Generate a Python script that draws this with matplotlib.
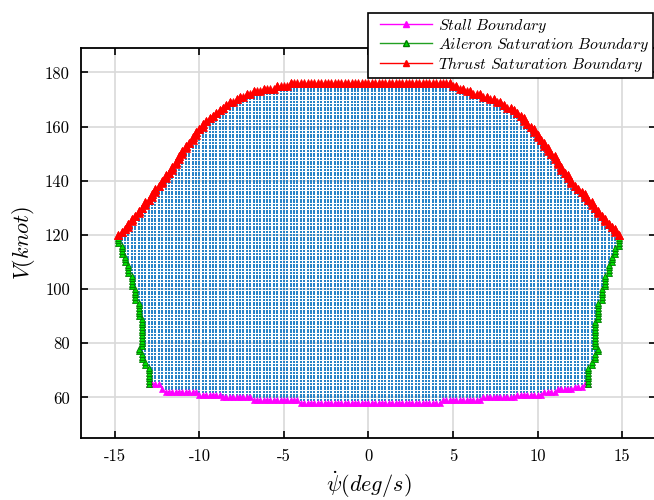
import numpy as np
import matplotlib
matplotlib.use('Agg')
import matplotlib.pyplot as plt
from matplotlib.path import Path
from matplotlib.lines import Line2D
from matplotlib.legend_handler import HandlerLine2D

plt.rcParams['mathtext.fontset'] = 'cm'
plt.rcParams['font.family'] = 'serif'
plt.rcParams['font.serif'] = ['cmr10']
plt.rcParams['axes.unicode_minus'] = False

# ---------------- data ----------------
# analysis grid
psi_grid = np.round(np.arange(-15.0, 15.0001, 0.2), 1)   # deg/s
V_grid = np.arange(58, 177, 1)                          # knot

# stall boundary (step levels between psi edges)
stall_psi_edges = [-13.05, -12.3, -12.1, -10.1, -8.7, -6.9, -4.1,
                   4.3, 6.7, 8.7, 10.3, 11.1, 12.1, 12.7, 13.05]
stall_V = [65, 63, 62, 61, 60, 59, 58, 59, 60, 61, 62, 63, 64, 65]

# aileron saturation boundary, right side (bottom -> top)
ail_right_V = [65, 70, 72, 75, 77, 81, 86, 92, 98, 103, 107, 111, 114, 116, 118, 120]
ail_right_psi = [13.05, 13.05, 13.25, 13.45, 13.65, 13.45, 13.5, 13.65, 13.85,
                 14.05, 14.25, 14.45, 14.65, 14.85, 14.85, 14.9]

# thrust saturation boundary (right -> left)
thr_psi = [14.9, 14.4, 13.6, 12.8, 12.0, 11.2, 10.4, 9.65, 8.85, 8.1, 7.1, 6.1,
           5.3, 4.9, -4.5, -5.5, -6.9, -7.9, -8.8, -9.8, -10.8, -11.75, -12.75,
           -13.75, -14.6, -14.9]
thr_V = [120, 123, 129, 135, 140, 147, 154, 160, 165.5, 168, 171, 173, 174.5,
         176, 176, 174.8, 173, 170, 166.5, 161, 153, 144, 135.5, 128, 121, 120]

# aileron saturation boundary, left side (top -> bottom)
ail_left_V = [120, 117, 114, 111, 107, 103, 98, 93, 87, 81, 77, 75, 72, 70, 65]
ail_left_psi = [-14.9, -14.8, -14.65, -14.45, -14.25, -14.05, -13.85, -13.65,
                -13.5, -13.45, -13.65, -13.45, -13.25, -13.05, -13.05]

legend_labels = [r'$\mathit{Stall\ Boundary}$',
                 r'$\mathit{Aileron\ Saturation\ Boundary}$',
                 r'$\mathit{Thrust\ Saturation\ Boundary}$']
xticks = [-15, -10, -5, 0, 5, 10, 15]
yticks = [60, 80, 100, 120, 140, 160, 180]

# ---------------- envelope & grid points ----------------
verts = []
for i, lv in enumerate(stall_V):
    verts.append((stall_psi_edges[i], lv))
    verts.append((stall_psi_edges[i + 1], lv))
verts += list(zip(ail_right_psi[1:], ail_right_V[1:]))
verts += list(zip(thr_psi[1:], thr_V[1:]))
verts += list(zip(ail_left_psi[1:], ail_left_V[1:]))
verts = np.array(verts, dtype=float)
scale = np.array([1.0, 0.2])
path = Path(verts * scale)

PP, VV = np.meshgrid(psi_grid, V_grid)
pts = np.column_stack([PP.ravel(), VV.ravel()]).astype(float)
r = 0.06
inside = path.contains_points(pts * scale, radius=r) | path.contains_points(pts * scale, radius=-r)
P = pts[inside]

# boundary points of the grid
stall_pts, ail_pts, thr_pts = [], [], []
for p in np.unique(P[:, 0]):
    col = P[P[:, 0] == p, 1]
    if col.min() <= 65:
        stall_pts.append((p, col.min()))
    if col.max() >= 120:
        thr_pts.append((p, col.max()))
for v in np.unique(P[:, 1]):
    row = P[P[:, 1] == v, 0]
    for p in (row.min(), row.max()):
        if 65 <= v < 120:
            ail_pts.append((p, v))
        elif v >= 120:
            thr_pts.append((p, v))
stall_pts = np.array(stall_pts)
ail_pts = np.array(ail_pts)
thr_pts = np.array(thr_pts)

# ---------------- figure ----------------
fig = plt.figure(figsize=(6.54, 5.0), dpi=100)
ax = fig.add_axes([81 / 654, 1 - 438 / 500, (656 - 81) / 654, (438 - 48) / 500])

ax.scatter(P[:, 0], P[:, 1], s=1.2, marker='s', c='#2a84c8', linewidths=0, zorder=2)

ms = 4.8
ax.plot(stall_pts[:, 0], stall_pts[:, 1], ls='none', marker='^', ms=ms,
        mfc='#ff00ff', mec='#ff00ff', mew=0.5, zorder=3)
ax.plot(ail_pts[:, 0], ail_pts[:, 1], ls='none', marker='^', ms=ms,
        mfc='#00dd00', mec='#007a00', mew=0.6, zorder=3)
ax.plot(thr_pts[:, 0], thr_pts[:, 1], ls='none', marker='^', ms=5.2,
        mfc='#ff0000', mec='#ff0000', mew=0.5, zorder=4)

ax.set_xlim(-17, 17)
ax.set_ylim(45, 189)
ax.set_xticks(xticks)
ax.set_yticks(yticks)
ax.tick_params(direction='in', top=True, right=True, length=5, width=1.2,
               labelsize=12, pad=8)
ax.grid(True, color='#d9d9d9', lw=1.2)
ax.set_axisbelow(True)
for s in ax.spines.values():
    s.set_linewidth(1.3)

ax.set_xlabel(r'$\dot{\psi}(deg/s)$', fontsize=16, labelpad=3)
ax.set_ylabel(r'$V(knot)$', fontsize=16, labelpad=6)

handles = [
    Line2D([], [], color='#ff00ff', lw=1, marker='^', ms=4, mfc='#ff00ff', mec='#ff00ff'),
    Line2D([], [], color='#22a022', lw=1, marker='^', ms=4, mfc='#00dd00', mec='#007a00'),
    Line2D([], [], color='#ff0000', lw=1, marker='^', ms=4, mfc='#ff0000', mec='#ff0000'),
]
hmap = {h: HandlerLine2D(numpoints=1, xpad=0.5) for h in handles}
leg = fig.legend(handles, legend_labels, loc='upper right',
                 bbox_to_anchor=(653 / 654, 1 - 13 / 500), fontsize=11.4,
                 frameon=True, fancybox=False, framealpha=1, edgecolor='black',
                 handlelength=3.8, handletextpad=0.38, labelspacing=0.05,
                 borderpad=0.25, borderaxespad=0, handler_map=hmap)
leg.get_frame().set_linewidth(1.2)
leg.set_zorder(10)

fig.savefig('out.png', dpi=100)
